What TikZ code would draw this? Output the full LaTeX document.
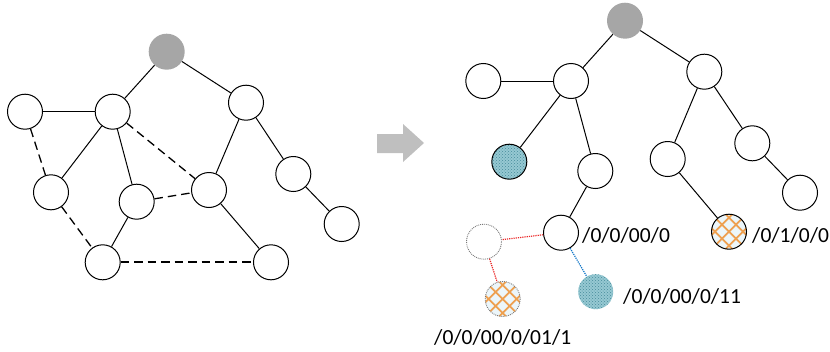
\documentclass[tikz,border=0pt]{standalone}
\usepackage{fontspec}
\setmainfont{Carlito}
\usetikzlibrary{patterns}
\definecolor{rootgray}{RGB}{166,166,166}
\definecolor{arrowgray}{RGB}{191,191,191}
\definecolor{tealdark}{RGB}{70,140,155}
\definecolor{teallight}{RGB}{150,200,210}
\definecolor{orgline}{RGB}{238,160,80}
\definecolor{orgfill}{RGB}{236,246,250}
\definecolor{dotred}{RGB}{235,40,40}
\definecolor{dotblue}{RGB}{20,120,200}
\definecolor{dotgray}{RGB}{120,120,120}
\begin{document}
\begin{tikzpicture}[x=1pt,y=-1pt,
  vtx/.style={circle,draw=black,line width=1pt,minimum size=35pt,inner sep=0pt,fill=white},
  rootv/.style={circle,fill=rootgray,minimum size=36pt,inner sep=0pt},
  ghost/.style={circle,draw=dotgray,densely dotted,line width=0.9pt,minimum size=35pt,inner sep=0pt},
  bluev/.style={circle,minimum size=35pt,inner sep=0pt,preaction={fill=teallight},pattern=crosshatch dots,pattern color=tealdark},
  orgv/.style={circle,minimum size=35pt,inner sep=0pt},
  edge/.style={line width=1pt},
  dedge/.style={line width=1.3pt,dash pattern=on 8.5pt off 5pt},
  redd/.style={dotred,line width=1.2pt,densely dotted},
  blued/.style={dotblue,line width=1.2pt,densely dotted},
  lbl/.style={anchor=base west,inner sep=0pt,font=\fontsize{21.5}{24}\selectfont}
]
\path[use as bounding box] (0,0) rectangle (830,351);

% ---------- left graph ----------
\node[rootv] (lr) at (166.7,51.7) {};
\node[vtx] (la) at (25,111.7) {};
\node[vtx] (lb) at (112.7,111.7) {};
\node[vtx] (lc) at (246,102.7) {};
\node[vtx] (ld) at (51,192.3) {};
\node[vtx] (le) at (136.7,201.7) {};
\node[vtx] (lf) at (209,190) {};
\node[vtx] (lg) at (293.3,174) {};
\node[vtx] (lh) at (341.7,224) {};
\node[vtx] (li) at (102.7,262.3) {};
\node[vtx] (lj) at (271,262.3) {};
\draw[edge] (lr) -- (lb);
\draw[edge] (lr) -- (lc);
\draw[edge] (la) -- (lb);
\draw[edge] (lb) -- (ld);
\draw[edge] (lb) -- (le);
\draw[edge] (lc) -- (lf);
\draw[edge] (lc) -- (lg);
\draw[edge] (le) -- (li);
\draw[edge] (lf) -- (lj);
\draw[edge] (lg) -- (lh);
\draw[dedge] (la) -- (ld);
\draw[dedge] (lb) -- (lf);
\draw[dedge] (le) -- (lf);
\draw[dedge] (ld) -- (li);
\draw[dedge,line width=1.7pt] (li) -- (lj);

% ---------- arrow ----------
\fill[arrowgray] (377,134) -- (403,134) -- (403,124) -- (424,143) -- (403,162) -- (403,153) -- (377,153) -- cycle;

% ---------- right tree ----------
\node[rootv] (rr) at (625,20.7) {};
\node[vtx] (r1) at (483.3,81) {};
\node[vtx] (r2) at (571,81) {};
\node[vtx] (r3) at (704.3,71.7) {};
\node[bluev,draw=black,line width=1pt] (r4) at (509.3,161.7) {};
\node[vtx] (r5) at (595.3,171) {};
\node[vtx] (r6) at (667.7,159) {};
\node[vtx] (r7) at (752.3,143.3) {};
\node[vtx] (r8) at (800,192.7) {};
\node[vtx] (r9) at (561,232.7) {};
\node[orgv] (ro) at (729,231.7) {};
\node[ghost] (rg) at (484,241.7) {};
\node[orgv] (rb) at (502.7,299) {};
\node[bluev] (rc) at (595.7,291.7) {};

% orange cross-hatched fills
\foreach \n in {ro,rb}{
  \begin{scope}
    \clip (\n.center) circle[radius=17.5];
    \fill[orgfill] (\n.center) circle[radius=17.5];
    \begin{scope}[shift={(\n.center)}]
      \foreach \d in {-42,-28,...,42}{
        \draw[orgline,line width=1.8pt] (\d-25,-25) -- (\d+25,25);
        \draw[orgline,line width=1.8pt] (\d-25,25) -- (\d+25,-25);
      }
    \end{scope}
  \end{scope}
}
\draw[line width=1pt] (ro.center) circle[radius=17.5];
\draw[dotgray,densely dotted,line width=0.9pt] (rb.center) circle[radius=17.5];

\draw[edge] (rr) -- (r2);
\draw[edge] (rr) -- (r3);
\draw[edge] (r1) -- (r2);
\draw[edge] (r2) -- (r4);
\draw[edge] (r2) -- (r5);
\draw[edge] (r3) -- (r6);
\draw[edge] (r3) -- (r7);
\draw[edge] (r7) -- (r8);
\draw[edge] (r5) -- (r9);
\draw[edge] (r6) -- (ro);
\draw[redd] (r9) -- (rg);
\draw[redd] (rg) -- (rb);
\draw[blued] (r9) -- (rc);

% ---------- labels ----------
\node[lbl] (t1) at (582,242) {/0/0/00/0};
\node[lbl] (t2) at (752,242) {/0/1/0/0};
\node[lbl] (t3) at (623,303) {/0/0/00/0/11};
\node[lbl] (t4) at (434,344) {/0/0/00/0/01/1};
\end{tikzpicture}
\end{document}
